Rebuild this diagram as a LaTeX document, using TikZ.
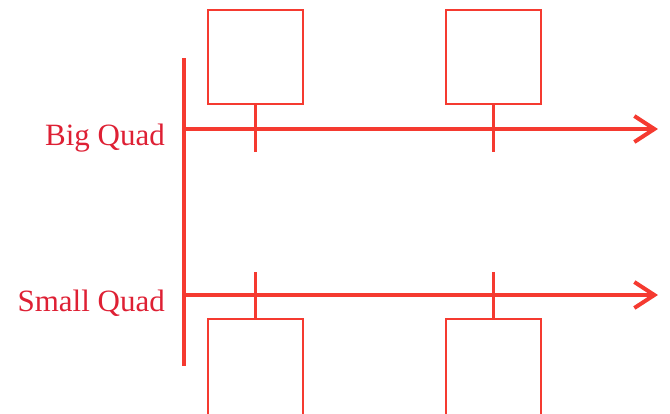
\documentclass[tikz,border=0pt]{standalone}
\usepackage{fontspec}
\setmainfont{Liberation Serif}
\usetikzlibrary{arrows.meta}
\definecolor{quadred}{RGB}{245,58,48}
\definecolor{labelred}{RGB}{222,32,52}

\begin{document}
\begin{tikzpicture}[x=1pt,y=-1pt,
    quad/.style={draw=quadred,line width=2.5pt,minimum width=95pt,minimum height=94pt,inner sep=0pt},
    axis/.style={draw=quadred,line width=4pt},
    arm/.style={draw=quadred,line width=3.5pt},
    lbl/.style={text=labelred,font=\fontsize{31}{36}\selectfont,inner sep=0pt,anchor=base east}]

\clip (0,0) rectangle (670,413);

% main bar
\coordinate (bartop) at (184,58);
\coordinate (barbot) at (184,366);
\draw[axis] (bartop) -- (barbot);

% big quad
\coordinate (bigstart) at (184,129);
\coordinate (bigend) at (658,129);
\draw[axis,-{Straight Barb[length=20pt,width=26pt]}] (bigstart) -- (bigend);
\node[lbl] (biglabel) at (165,145) {Big Quad};
\node[quad] (big1) at (255.5,57) {};
\node[quad] (big2) at (493.5,57) {};
\coordinate (bigtip1) at (255.5,152);
\coordinate (bigtip2) at (493.5,152);
\draw[arm] (big1.south) -- (bigtip1);
\draw[arm] (big2.south) -- (bigtip2);

% small quad (boxes run past the bottom edge)
\coordinate (smallstart) at (184,295);
\coordinate (smallend) at (658,295);
\draw[axis,-{Straight Barb[length=20pt,width=26pt]}] (smallstart) -- (smallend);
\node[lbl] (smalllabel) at (165,311) {Small Quad};
\node[quad,minimum height=98pt] (small1) at (255.5,368) {};
\node[quad,minimum height=98pt] (small2) at (493.5,368) {};
\coordinate (smalltip1) at (255.5,272);
\coordinate (smalltip2) at (493.5,272);
\draw[arm] (smalltip1) -- (small1.north);
\draw[arm] (smalltip2) -- (small2.north);
\end{tikzpicture}
\end{document}
